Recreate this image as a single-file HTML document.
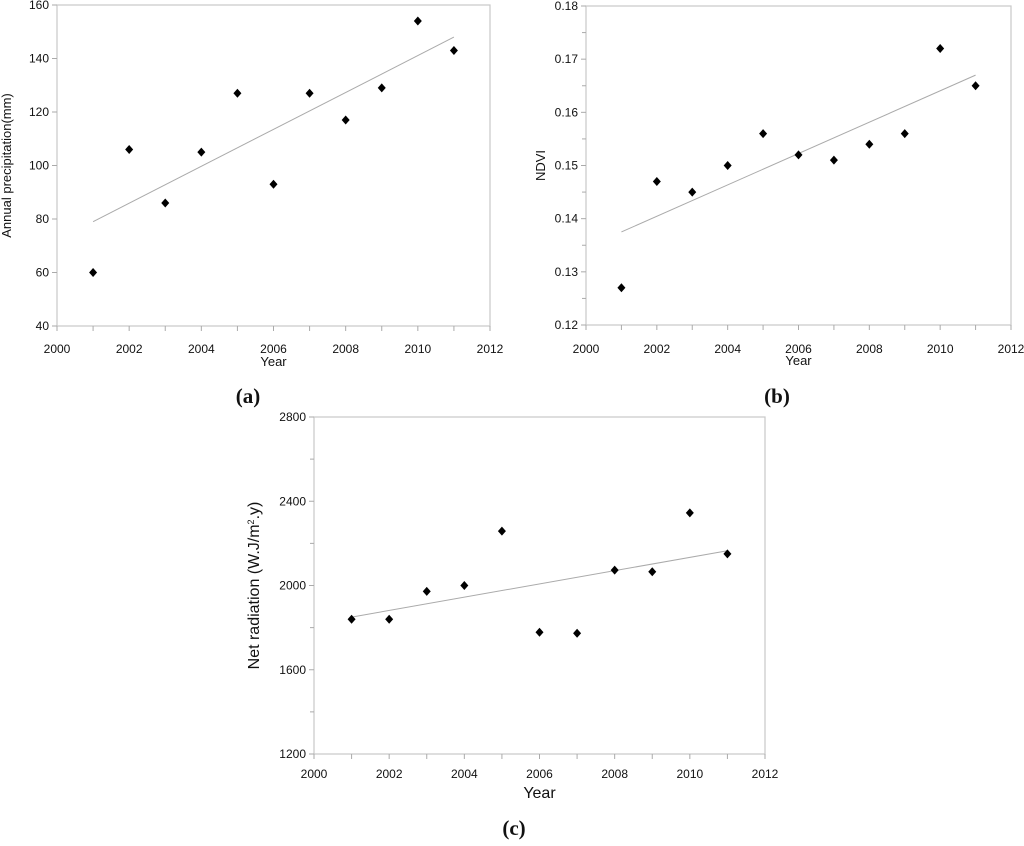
<!DOCTYPE html>
<html><head><meta charset="utf-8"><style>
body{margin:0;background:#fff;}
svg text{font-family:"Liberation Sans",sans-serif;fill:#111;}
.cap{font-family:"Liberation Serif",serif;font-weight:bold;font-size:21px;}
</style></head><body>
<svg id="svg" width="1024" height="841" xmlns="http://www.w3.org/2000/svg"></svg>
<script>
const years = [2001,2002,2003,2004,2005,2006,2007,2008,2009,2010,2011];
const xTicks = [2000,2002,2004,2006,2008,2010,2012];
const precip = [60,106,86,105,127,93,127,117,129,154,143];
const precipTrend = [79,148];
const precipTicks = [40,60,80,100,120,140,160];
const ndvi = [0.127,0.147,0.145,0.150,0.156,0.152,0.151,0.154,0.156,0.172,0.165];
const ndviTrend = [0.1375,0.167];
const ndviTicks = [0.12,0.13,0.14,0.15,0.16,0.17,0.18];
const netRad = [1840,1840,1972,2000,2258,1778,1773,2073,2065,2345,2150];
const netRadTrend = [1850,2165];
const netRadTicks = [1200,1600,2000,2400,2800];

const NS="http://www.w3.org/2000/svg";
const svg=document.getElementById('svg');
function mk(tag,attrs,parent){const e=document.createElementNS(NS,tag);for(const k in attrs)e.setAttribute(k,attrs[k]);(parent||svg).appendChild(e);return e;}

function chart(id,L,R,T,B,ymin,ymax,yt,minor,vals,trend,ytitle,fmt,titleX,titleSize,capX,capY,capText,xlabY,yearY,yearSize){
  const g=mk('g',{});
  
  
  const sx=v=>L+(v-2000)/12*(R-L);
  const sy=v=>B-(v-ymin)/(ymax-ymin)*(B-T);
  const frame=mk('rect',{x:L,y:T,width:R-L,height:B-T,fill:'none',stroke:'#c8c8c8','stroke-width':1.2},g);
  
  
  for(let y=2000;y<=2012;y++){mk('line',{x1:sx(y),x2:sx(y),y1:B,y2:B+5,stroke:'#aaa'},g);}
  xTicks.forEach(t=>{const tx=mk('text',{x:sx(t),y:xlabY,'font-size':12,'text-anchor':'middle'},g);tx.textContent=t;
    
    });
  yt.forEach((t,i)=>{mk('line',{x1:L-5,x2:L,y1:sy(t),y2:sy(t),stroke:'#aaa'},g);
    const tx=mk('text',{x:L-8,y:sy(t)+4,'font-size':12,'text-anchor':'end'},g);tx.textContent=fmt(t);
    
    
    if(minor&&i<yt.length-1){const m=(t+yt[i+1])/2;mk('line',{x1:L-4,x2:L,y1:sy(m),y2:sy(m),stroke:'#aaa'},g);}
  });
  const ln=mk('line',{x1:sx(2001),y1:sy(trend[0]),x2:sx(2011),y2:sy(trend[1]),stroke:'#aaa','stroke-width':1},g);
  
  
  vals.forEach((v,i)=>{const x=sx(years[i]),y=sy(v);
    const p=mk('polygon',{points:`${x},${y-4.5} ${x+4},${y} ${x},${y+4.5} ${x-4},${y}`,fill:'#000'},g);
    
    });
  const xt=mk('text',{x:(L+R)/2,y:yearY,'font-size':yearSize,'text-anchor':'middle'},g);xt.textContent='Year';
  
  
  const yT=mk('text',{x:0,y:0,'font-size':titleSize,'text-anchor':'middle',transform:`translate(${titleX},${(T+B)/2}) rotate(-90)`},g);
  yT.innerHTML=ytitle;
  
  
  const c=mk('text',{x:capX,y:capY,'text-anchor':'middle',class:'cap'},g);c.textContent=capText;
  
  
}
chart('a',57,490,5,326,40,160,precipTicks,false,precip,precipTrend,'Annual precipitation(mm)',t=>t,11,13,248,403,'(a)',353,366,13);
chart('b',586,1011,6,325,0.12,0.18,ndviTicks,true,ndvi,ndviTrend,'NDVI',t=>t.toFixed(2),545,13,777,403,'(b)',353,365,13);
chart('c',314,765,417,754,1200,2800,netRadTicks,true,netRad,netRadTrend,'Net radiation (W.J/m<tspan font-size="9" dy="-5">2</tspan><tspan dy="5">.y)</tspan>',t=>t,259,16,514,835,'(c)',778,798,16);
</script>
</body></html>
